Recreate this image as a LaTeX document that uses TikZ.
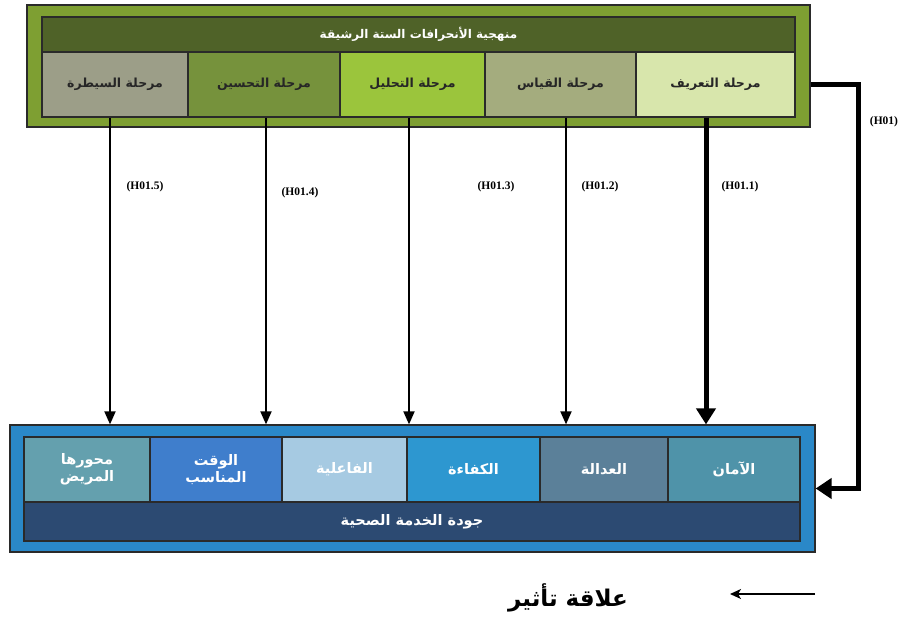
\documentclass[tikz,border=0pt]{standalone}
\usepackage{fontspec}
\setmainfont{Liberation Serif}
\newfontfamily\arabicfont[Script=Arabic]{DejaVu Sans}
\TeXXeTstate=1
\usetikzlibrary{arrows.meta,calc}
\definecolor{gOuter}{HTML}{7E9F32}
\definecolor{gHead}{HTML}{4F6228}
\definecolor{gS1}{HTML}{9C9E88}
\definecolor{gS2}{HTML}{76923C}
\definecolor{gS3}{HTML}{9BC53C}
\definecolor{gS4}{HTML}{A4AC7E}
\definecolor{gS5}{HTML}{D8E6AC}
\definecolor{bOuter}{HTML}{2A88C8}
\definecolor{bB1}{HTML}{64A0AE}
\definecolor{bB2}{HTML}{3F7ECC}
\definecolor{bB3}{HTML}{A6CAE2}
\definecolor{bB4}{HTML}{2D97D0}
\definecolor{bB5}{HTML}{5B8099}
\definecolor{bB6}{HTML}{4F93A9}
\definecolor{bBand}{HTML}{2C4A72}
\definecolor{edge}{HTML}{2A2A2A}
\tikzset{
  box/.style={draw=edge, line width=1.2pt, inner sep=0pt, rectangle},
  tcell/.style={box, font=\arabicfont\bfseries\fontsize{12.5}{15}\selectfont, text=black!85},
  bcell/.style={box, font=\arabicfont\bfseries\fontsize{14.5}{17}\selectfont, text=white, align=center},
  arr/.style={line width=1.8pt, -{Triangle[length=13pt,width=11pt]}},
  thickarr/.style={line width=5pt, -{Triangle[length=16pt,width=19pt]}},
  hlab/.style={font=\bfseries\fontsize{11.5}{13}\selectfont, inner sep=1pt}
}
\newcommand{\AR}[1]{\beginR #1\endR}
\begin{document}
\begin{tikzpicture}[x=1pt,y=-1pt]
\useasboundingbox (0,0) rectangle (906,621);
% top block
\node[box, fill=gOuter, minimum width=783, minimum height=122] (top) at (418.5,66) {};
\node[box, fill=gHead, minimum width=753, minimum height=35, text=white,
      font=\arabicfont\bfseries\fontsize{12}{14}\selectfont] (head) at (418.5,34.5) {\AR{منهجية الأنحرافات الستة الرشيقة}};
\node[tcell, fill=gS1, minimum width=146, minimum height=65] (s1) at (115,84.5) {\AR{مرحلة السيطرة}};
\node[tcell, fill=gS2, minimum width=152, minimum height=65] (s2) at (264,84.5) {\AR{مرحلة التحسين}};
\node[tcell, fill=gS3, minimum width=145, minimum height=65] (s3) at (412.5,84.5) {\AR{مرحلة التحليل}};
\node[tcell, fill=gS4, minimum width=151, minimum height=65] (s4) at (560.5,84.5) {\AR{مرحلة القياس}};
\node[tcell, fill=gS5, minimum width=159, minimum height=65] (s5) at (715.5,84.5) {\AR{مرحلة التعريف}};
% bottom block
\node[box, fill=bOuter, minimum width=805, minimum height=127] (bot) at (412.5,488.5) {};
\node[bcell, fill=bB1, minimum width=126, minimum height=65] (b1) at (87,469.5) {\AR{محورها}\\\AR{المريض}};
\node[bcell, fill=bB2, minimum width=132, minimum height=65] (b2) at (216,469.5) {\AR{الوقت}\\\AR{المناسب}};
\node[bcell, fill=bB3, minimum width=125, minimum height=65] (b3) at (344.5,469.5) {\AR{الفاعلية}};
\node[bcell, fill=bB4, minimum width=133, minimum height=65] (b4) at (473.5,469.5) {\AR{الكفاءة}};
\node[bcell, fill=bB5, minimum width=128, minimum height=65] (b5) at (604,469.5) {\AR{العدالة}};
\node[bcell, fill=bB6, minimum width=132, minimum height=65] (b6) at (734,469.5) {\AR{الآمان}};
\node[bcell, fill=bBand, minimum width=776, minimum height=39] (band) at (412,521.5) {\AR{جودة الخدمة الصحية}};
% arrows
\draw[arr] (110,0 |- s1.south) -- (110,0 |- bot.north);
\draw[arr] (266,0 |- s2.south) -- (266,0 |- bot.north);
\draw[arr] (409,0 |- s3.south) -- (409,0 |- bot.north);
\draw[arr] (566,0 |- s4.south) -- (566,0 |- bot.north);
\draw[thickarr] (706,0 |- s5.south) -- (706,0 |- bot.north);
\coordinate (rt) at (858,0);
\draw[line width=5pt, -{Triangle[length=16pt,width=20pt]}] (top.east |- s5.center) -- (rt |- s5.center) -- (rt |- bot.east) -- (bot.east);
% labels
\node[hlab] (l5) at (145,187) {(H01.5)};
\node[hlab] (l4) at (300,193) {(H01.4)};
\node[hlab] (l3) at (496,187) {(H01.3)};
\node[hlab] (l2) at (600,187) {(H01.2)};
\node[hlab] (l1) at (740,187) {(H01.1)};
\node[hlab] (l0) at (884,122) {(H01)};
% legend
\coordinate (lgA) at (815,594);
\coordinate (lgB) at (730,594);
\draw[line width=1.6pt, -{Stealth[length=11pt,width=10pt,inset=3pt]}] (lgA) -- (lgB);
\node[font=\arabicfont\bfseries\fontsize{23}{27}\selectfont] (lg) at (568,598) {\AR{علاقة تأثير}};
\end{tikzpicture}
\end{document}
